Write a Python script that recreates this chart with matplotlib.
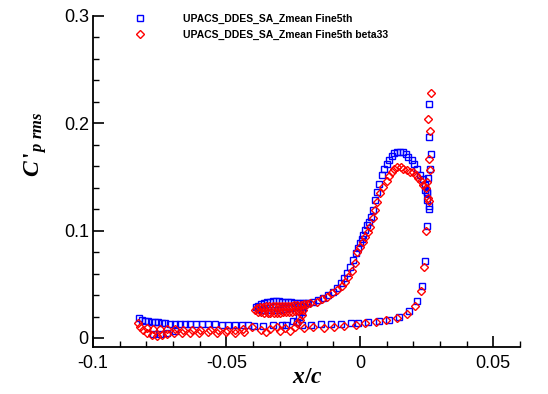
import numpy as np
import matplotlib
matplotlib.use("Agg")
import matplotlib.pyplot as plt
from matplotlib.ticker import MultipleLocator
from matplotlib.lines import Line2D

plt.rcParams.update({
    "font.family": ["Liberation Sans", "DejaVu Sans"],
    "mathtext.fontset": "custom",
    "mathtext.it": "Liberation Serif:bold:italic",
    "mathtext.rm": "Liberation Serif:bold",
})

# ---------------- data ----------------
label_blue = "UPACS_DDES_SA_Zmean Fine5th"
label_red = "UPACS_DDES_SA_Zmean Fine5th beta33"

# blue: lower surface, leading edge -> trailing edge
blue_lower_x = [-0.0829, -0.0818, -0.0806, -0.0795, -0.0780, -0.0769, -0.0758, -0.0743, -0.0731,
                -0.0713, -0.0694, -0.0675, -0.0656, -0.0638, -0.0615, -0.0593, -0.0570, -0.0544,
                -0.0518, -0.0495, -0.0469, -0.0443, -0.0420, -0.0398, -0.0364, -0.0326, -0.0293,
                -0.0278, -0.0218, -0.0184, -0.0146, -0.0109, -0.0071, -0.0034, -0.0008, 0.0030,
                0.0071, 0.0109, 0.0146, 0.0184, 0.0214, 0.0233, 0.0244]
blue_lower_y = [0.0187, 0.0168, 0.0159, 0.0159, 0.0150, 0.0150, 0.0150, 0.0140, 0.0140,
                0.0131, 0.0131, 0.0131, 0.0131, 0.0131, 0.0131, 0.0131, 0.0131, 0.0131,
                0.0121, 0.0121, 0.0121, 0.0121, 0.0121, 0.0112, 0.0112, 0.0121, 0.0121,
                0.0121, 0.0121, 0.0121, 0.0131, 0.0131, 0.0131, 0.0140, 0.0140, 0.0150,
                0.0159, 0.0168, 0.0196, 0.0252, 0.0346, 0.0486, 0.0720]
blue_extra_x = [-0.0776, -0.0750, -0.0724, -0.0694]
blue_extra_y = [0.0037, 0.0037, 0.0047, 0.0065]
# blue: trailing edge spike
blue_te_x = [0.0251, 0.0259, 0.0259, 0.0251, 0.0251, 0.0255, 0.0263, 0.0266, 0.0259, 0.0259]
blue_te_y = [0.1047, 0.1206, 0.1234, 0.1290, 0.1364, 0.1495, 0.1579, 0.1710, 0.1869, 0.2178]
# blue: upper surface
blue_upper_x = [-0.0195, -0.0176, -0.0158, -0.0139, -0.0120, -0.0101, -0.0086, -0.0071, -0.0060,
                -0.0049, -0.0038, -0.0026, -0.0015, -0.0008, 0.0000, 0.0008, 0.0011, 0.0019,
                0.0026, 0.0034, 0.0041, 0.0049, 0.0056, 0.0064, 0.0071, 0.0083, 0.0090,
                0.0101, 0.0109, 0.0120, 0.0128, 0.0139, 0.0150, 0.0161, 0.0173, 0.0180,
                0.0195, 0.0203, 0.0214, 0.0225, 0.0236, 0.0244, 0.0244, 0.0251]
blue_upper_y = [0.0327, 0.0336, 0.0355, 0.0374, 0.0402, 0.0430, 0.0467, 0.0514, 0.0561,
                0.0607, 0.0664, 0.0729, 0.0794, 0.0841, 0.0888, 0.0925, 0.0963, 0.1009,
                0.1056, 0.1084, 0.1131, 0.1196, 0.1290, 0.1364, 0.1439, 0.1514, 0.1570,
                0.1617, 0.1654, 0.1692, 0.1720, 0.1729, 0.1729, 0.1729, 0.1710, 0.1682,
                0.1654, 0.1617, 0.1570, 0.1514, 0.1477, 0.1430, 0.1383, 0.1355]
# blue: cove loop + connector
blue_cove_top_x = [-0.0383, -0.0371, -0.0360, -0.0349, -0.0338, -0.0326, -0.0315, -0.0304, -0.0293,
                   -0.0281, -0.0270, -0.0259, -0.0248, -0.0236, -0.0225, -0.0214, -0.0203]
blue_cove_top_y = [0.0300, 0.0320, 0.0330, 0.0335, 0.0338, 0.0340, 0.0340, 0.0340, 0.0338,
                   0.0335, 0.0335, 0.0332, 0.0330, 0.0330, 0.0328, 0.0326, 0.0326]
blue_cove_bot_x = [-0.0390, -0.0379, -0.0368, -0.0356, -0.0345, -0.0334, -0.0323, -0.0311,
                   -0.0300, -0.0289, -0.0278, -0.0266, -0.0255, -0.0244, -0.0233, -0.0221]
blue_cove_bot_y = [0.0290, 0.0270, 0.0262, 0.0258, 0.0258, 0.0258, 0.0260, 0.0262,
                   0.0265, 0.0268, 0.0272, 0.0275, 0.0280, 0.0285, 0.0290, 0.0300]
blue_conn_x = [-0.0214, -0.0218, -0.0229, -0.0236, -0.0251]
blue_conn_y = [0.0290, 0.0243, 0.0196, 0.0150, 0.0159]

# red: lower surface
red_lower_x = [-0.0833, -0.0825, -0.0814, -0.0799, -0.0780, -0.0761, -0.0743, -0.0724, -0.0698,
               -0.0799, -0.0776, -0.0750, -0.0724, -0.0694, -0.0664, -0.0630, -0.0600, -0.0563,
               -0.0533, -0.0499, -0.0469, -0.0439,
               -0.0668, -0.0638, -0.0604, -0.0570, -0.0536, -0.0503, -0.0469, -0.0435,
               -0.0405, -0.0371, -0.0338, -0.0311, -0.0281, -0.0244, -0.0210, -0.0176, -0.0135,
               -0.0098, -0.0060, -0.0015, 0.0019, 0.0060, 0.0098, 0.0139, 0.0176, 0.0206,
               0.0229, 0.0240, 0.0248,
               -0.0353, -0.0300, -0.0262]
red_lower_y = [0.0140, 0.0103, 0.0075, 0.0047, 0.0028, 0.0019, 0.0028, 0.0037, 0.0047,
               0.0093, 0.0084, 0.0084, 0.0084, 0.0084, 0.0075, 0.0075, 0.0075, 0.0075,
               0.0075, 0.0075, 0.0075, 0.0084,
               0.0047, 0.0047, 0.0047, 0.0056, 0.0047, 0.0056, 0.0047, 0.0056,
               0.0103, 0.0075, 0.0084, 0.0103, 0.0093, 0.0103, 0.0093, 0.0103, 0.0093,
               0.0103, 0.0112, 0.0121, 0.0140, 0.0150, 0.0168, 0.0187, 0.0224, 0.0299,
               0.0439, 0.0664, 0.1000,
               0.0056, 0.0065, 0.0065]
# red: trailing edge spike
red_te_x = [0.0255, 0.0259, 0.0251, 0.0263, 0.0259, 0.0263, 0.0255, 0.0266]
red_te_y = [0.1308, 0.1280, 0.1449, 0.1561, 0.1664, 0.1925, 0.2037, 0.2280]
# red: upper surface
red_upper_x = [-0.0188, -0.0161, -0.0143, -0.0124, -0.0105, -0.0086, -0.0068, -0.0056, -0.0045,
               -0.0030, -0.0019, -0.0011, 0.0000, 0.0011, 0.0019, 0.0030, 0.0038, 0.0049,
               0.0056, 0.0064, 0.0075, 0.0086, 0.0101, 0.0109, 0.0120, 0.0128, 0.0139,
               0.0154, 0.0161, 0.0176, 0.0188, 0.0199, 0.0210, 0.0218, 0.0229, 0.0236, 0.0248]
red_upper_y = [0.0327, 0.0336, 0.0364, 0.0383, 0.0421, 0.0449, 0.0486, 0.0523, 0.0570,
               0.0626, 0.0701, 0.0804, 0.0850, 0.0897, 0.0944, 0.0991, 0.1037, 0.1121,
               0.1196, 0.1271, 0.1355, 0.1411, 0.1458, 0.1505, 0.1542, 0.1570, 0.1589,
               0.1589, 0.1579, 0.1561, 0.1551, 0.1542, 0.1514, 0.1495, 0.1458, 0.1430, 0.1402]
# red: cove loop + connector
red_cove_top_x = [-0.0386, -0.0374, -0.0363, -0.0351, -0.0339, -0.0327, -0.0316, -0.0304, -0.0292,
                  -0.0281, -0.0269, -0.0257, -0.0246, -0.0234, -0.0222, -0.0211, -0.0199]
red_cove_top_y = [0.0280, 0.0290, 0.0293, 0.0295, 0.0295, 0.0295, 0.0295, 0.0295, 0.0297,
                  0.0297, 0.0300, 0.0302, 0.0305, 0.0308, 0.0310, 0.0315, 0.0320]
red_cove_bot_x = [-0.0392, -0.0381, -0.0369, -0.0358, -0.0346, -0.0335, -0.0323, -0.0312,
                  -0.0300, -0.0289, -0.0277, -0.0266, -0.0254, -0.0243, -0.0231, -0.0223]
red_cove_bot_y = [0.0262, 0.0245, 0.0238, 0.0235, 0.0234, 0.0234, 0.0234, 0.0235,
                  0.0236, 0.0238, 0.0240, 0.0243, 0.0246, 0.0250, 0.0255, 0.0260]
red_conn_x = [-0.0214, -0.0218, -0.0225, -0.0236]
red_conn_y = [0.0262, 0.0215, 0.0168, 0.0140]

blue_x = np.concatenate([blue_lower_x, blue_extra_x, blue_te_x, blue_upper_x,
                         blue_cove_top_x, blue_cove_bot_x, blue_conn_x])
blue_y = np.concatenate([blue_lower_y, blue_extra_y, blue_te_y, blue_upper_y,
                         blue_cove_top_y, blue_cove_bot_y, blue_conn_y])
red_x = np.concatenate([red_lower_x, red_te_x, red_upper_x,
                        red_cove_top_x, red_cove_bot_x, red_conn_x])
red_y = np.concatenate([red_lower_y, red_te_y, red_upper_y,
                        red_cove_top_y, red_cove_bot_y, red_conn_y])

# ---------------- plot ----------------
fig = plt.figure(figsize=(5.48, 3.94), dpi=100)
ax = fig.add_axes([93 / 548, 47 / 394, (520 - 93) / 548, (347 - 16) / 394])

blue_style = dict(linestyle="none", marker="s", markersize=4.4, markerfacecolor="none",
                  markeredgecolor="#0000ff", markeredgewidth=1.0)
red_style = dict(linestyle="none", marker="D", markersize=3.8, markerfacecolor="none",
                 markeredgecolor="#ff0000", markeredgewidth=1.0)

ax.plot(blue_x, blue_y, **blue_style)
ax.plot(red_x, red_y, **red_style)

ax.set_xlim(-0.1, 0.06)
ax.set_ylim(-0.0084, 0.3)

ax.xaxis.set_minor_locator(MultipleLocator(0.01))
ax.yaxis.set_minor_locator(MultipleLocator(0.02))
ax.set_xticks([-0.1, -0.05, 0, 0.05])
ax.set_xticklabels(["-0.1", "-0.05", "0", "0.05"])
ax.set_yticks([0, 0.1, 0.2, 0.3])
ax.set_yticklabels(["0", "0.1", "0.2", "0.3"])

for s in ["top", "right"]:
    ax.spines[s].set_visible(False)
for s in ["left", "bottom"]:
    ax.spines[s].set_linewidth(1.3)

ax.tick_params(which="major", direction="in", length=8, width=1.2, labelsize=13)
ax.tick_params(which="minor", direction="in", length=4, width=1.0)
ax.tick_params(axis="x", which="major", pad=6)
ax.tick_params(axis="y", which="major", pad=3)
ax.tick_params(top=False, right=False, which="both")

fig.text(307 / 548, 1 - 377 / 394, r"$x/c$", fontsize=17, ha="center", va="center")
fig.text(36 / 548, 1 - 144 / 394, r"$C\,'_{p\ rms}$", fontsize=17, rotation=90,
         ha="center", va="center")

handles = [Line2D([], [], **blue_style), Line2D([], [], **red_style)]
fig.legend(handles, [label_blue, label_red], loc="upper left",
           bbox_to_anchor=(135 / 548, 1 - 14 / 394), bbox_transform=fig.transFigure,
           frameon=False, borderpad=0, borderaxespad=0, handlelength=1.0,
           handletextpad=3.6, labelspacing=0.55,
           prop={"family": "Liberation Sans", "weight": "bold", "size": 7.5})

fig.savefig("out.png", dpi=100)
